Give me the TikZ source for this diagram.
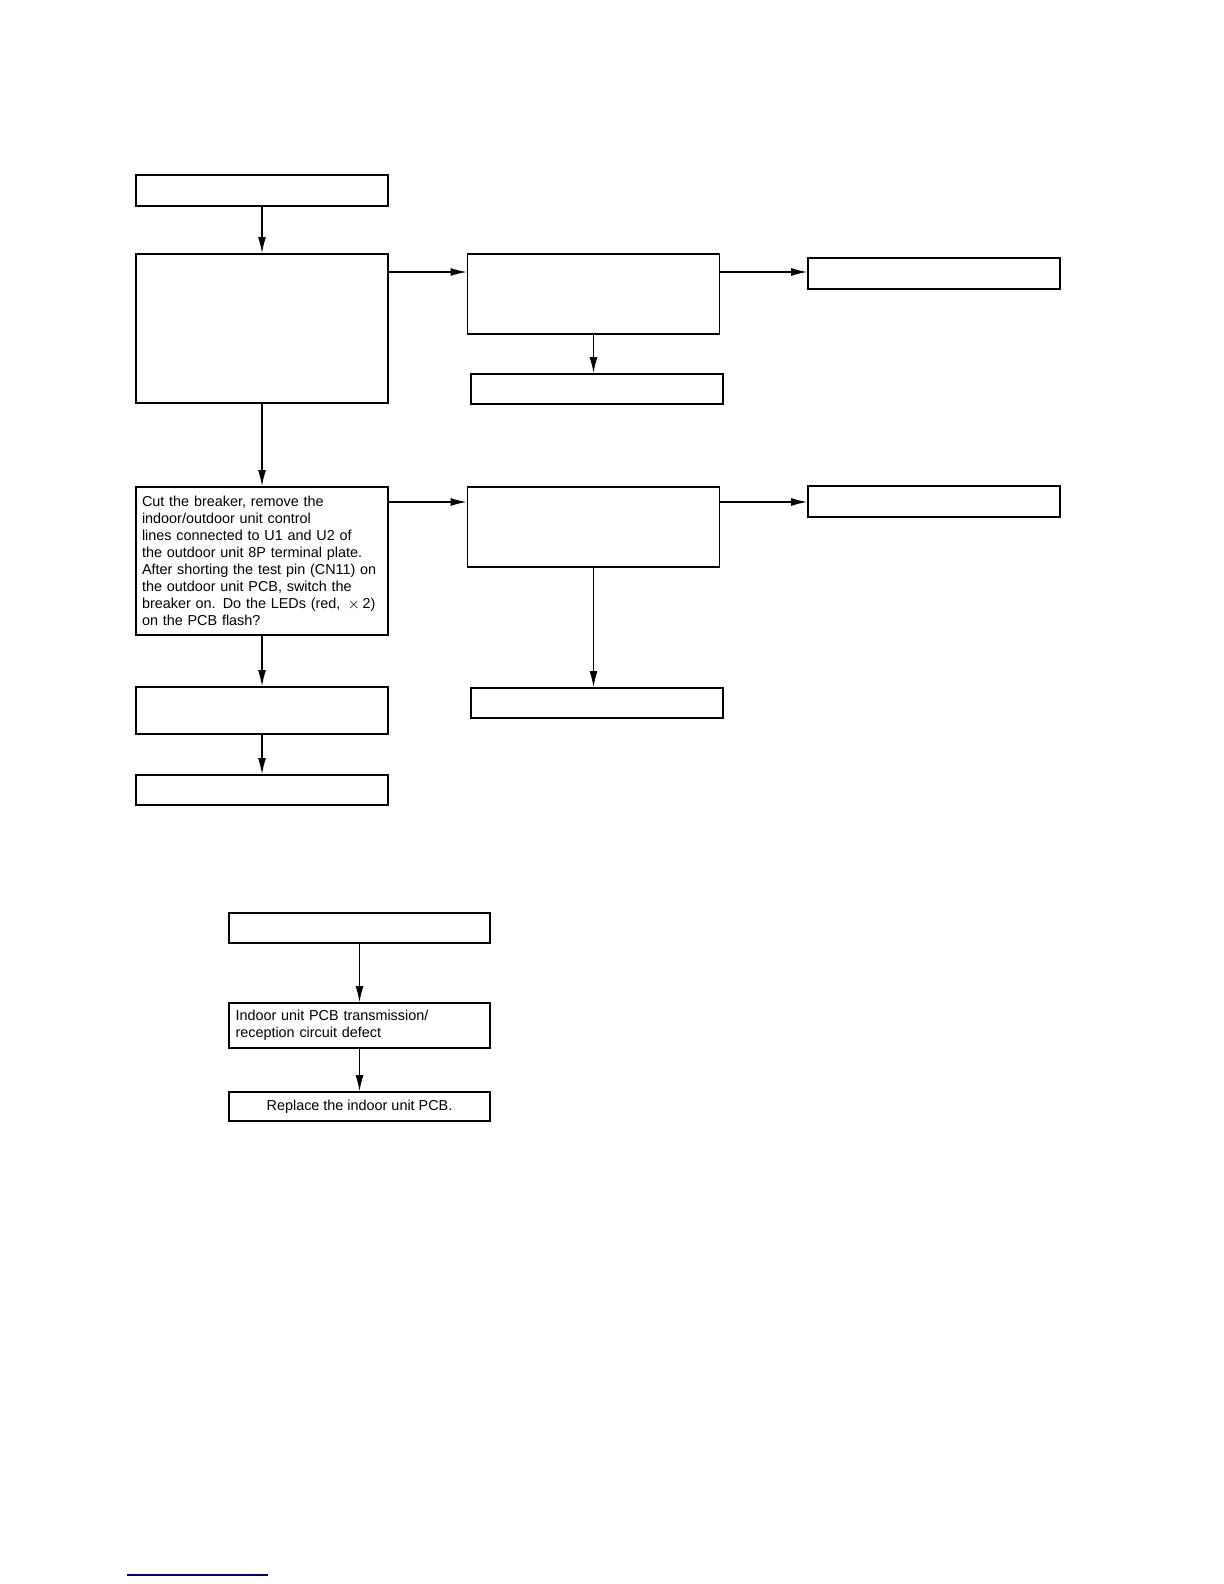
\documentclass[tikz,border=0pt]{standalone}
\usepackage{fontspec}
\setmainfont{Liberation Sans}
\usetikzlibrary{arrows.meta,positioning}

\begin{document}
\begin{tikzpicture}[
		x=0.5pt, y=-0.5pt,
		box/.style={draw, line width=0.9pt, minimum width=126pt, inner sep=0pt, font=\fontsize{7.2}{8.5}\selectfont},
		wide/.style={box, minimum width=130.5pt},
		txt/.style={align=left, text width=120pt},
		flow/.style={-{Latex[length=8pt,width=4pt]}, line width=0.6pt},
	]
		\useasboundingbox (0,0) rectangle (1224,1584);
		% upper chart
		\node (start) [box, minimum height=15.5pt] at (262,190.5) {};
		\node (check) [box, minimum height=74.5pt] at (262,328.5) {};
		\node (led) [box, minimum height=40pt] at (593.5,294) {};
		\node (ledyes) [box, minimum height=15.5pt] at (934,273.5) {};
		\node (ledno) [box, minimum height=15pt] at (597,389) {};
		\node (cut) [box, minimum height=74pt, txt] at (262,561) {Cut the breaker, remove the\\indoor/outdoor unit control\\lines connected to U1 and U2 of\\the outdoor unit 8P terminal plate.\\After shorting the test pin (CN11) on\\the outdoor unit PCB, switch the\\breaker on. Do the LEDs (red, \,$\times$\,2)\\on the PCB flash?};
		\node (flash) [box, minimum height=40pt] at (593.5,527) {};
		\node (flashyes) [box, minimum height=15.5pt] at (934,501.5) {};
		\node (flashno) [box, minimum height=15pt] at (597,703) {};
		\node (cutno) [box, minimum height=23.5pt] at (262,710.5) {};
		\node (cutfix) [box, minimum height=15pt] at (262,790) {};

		\draw[flow] (start) -- (check);
		\draw[flow] (check.north east|-0,272) -- (led.west|-0,272);
		\draw[flow] (led.east|-0,272) -- (ledyes.west|-0,272);
		\draw[flow] (led.south) -- (led.south|-ledno.north);
		\draw[flow] (check) -- (cut);
		\draw[flow] (cut.east|-0,502) -- (flash.west|-0,502);
		\draw[flow] (flash.east|-0,502) -- (flashyes.west|-0,502);
		\draw[flow] (flash.south) -- (flash.south|-flashno.north);
		\draw[flow] (cut) -- (cutno);
		\draw[flow] (cutno) -- (cutfix);

		% lower chart
		\node (pcb) [wide, minimum height=15pt] at (359.5,928) {};
		\node (defect) [wide, minimum height=22.5pt, txt, text width=124pt] at (359.5,1025.5) {Indoor unit PCB transmission/\\reception circuit defect};
		\node (replace) [wide, minimum height=14.5pt] at (359.5,1106.5) {Replace the indoor unit PCB.};
		\draw[flow] (pcb) -- (defect);
		\draw[flow] (defect) -- (replace);

		\coordinate (ul) at (127,1575);
		\coordinate (ur) at (268,1575);
		\draw[blue!40!black, line width=0.8pt] (ul) -- (ur);
	\end{tikzpicture}
\end{document}
